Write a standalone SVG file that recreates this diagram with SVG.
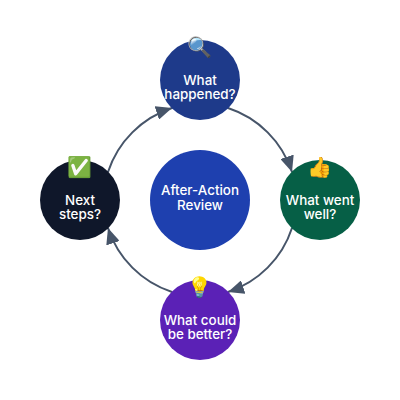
<svg xmlns="http://www.w3.org/2000/svg" width="400" height="400" viewBox="0 0 400 400">
<style>
text{font-family:Inter,"Liberation Sans",sans-serif;font-size:13.4px;font-weight:500;fill:#fff;text-anchor:middle}
.e{font-family:"Noto Color Emoji","Apple Color Emoji",sans-serif;font-size:20px;font-weight:400}
.c{fill:none;stroke:#475569;stroke-width:2;marker-end:url(#a)}
</style>
<defs><marker id="a" markerUnits="userSpaceOnUse" markerWidth="16" markerHeight="14" refX="16" refY="7" orient="auto"><path d="M0,0L16,7L0,14z" fill="#475569"/></marker></defs>
<g id="connectors">
<path class="c" d="M228,108A100,100 0 0 1 292,172"/>
<path class="c" d="M292,228A100,100 0 0 1 228,292"/>
<path class="c" d="M172,292A100,100 0 0 1 108,228"/>
<path class="c" d="M108,172A100,100 0 0 1 172,108"/>
</g>
<g id="center"><circle cx="200" cy="200" r="50" fill="#1e40af"/><text x="200" y="195">After-Action<tspan x="200" dy="15">Review</tspan></text></g>
<g id="n1"><circle cx="200" cy="80" r="40" fill="#1e3a8a"/><text class="e" x="200" y="54">🔍</text><text x="200" y="85">What<tspan x="200" dy="13.5">happened?</tspan></text></g>
<g id="n2"><circle cx="320" cy="200" r="40" fill="#065f46"/><text class="e" x="320" y="174">👍</text><text x="320" y="205">What went<tspan x="320" dy="13.5">well?</tspan></text></g>
<g id="n3"><circle cx="200" cy="320" r="40" fill="#5b21b6"/><text class="e" x="200" y="294">💡</text><text x="200" y="325">What could<tspan x="200" dy="13.5">be better?</tspan></text></g>
<g id="n4"><circle cx="80" cy="200" r="40" fill="#0f172a"/><text class="e" x="80" y="174">✅</text><text x="80" y="205">Next<tspan x="80" dy="13.5">steps?</tspan></text></g>
</svg>
